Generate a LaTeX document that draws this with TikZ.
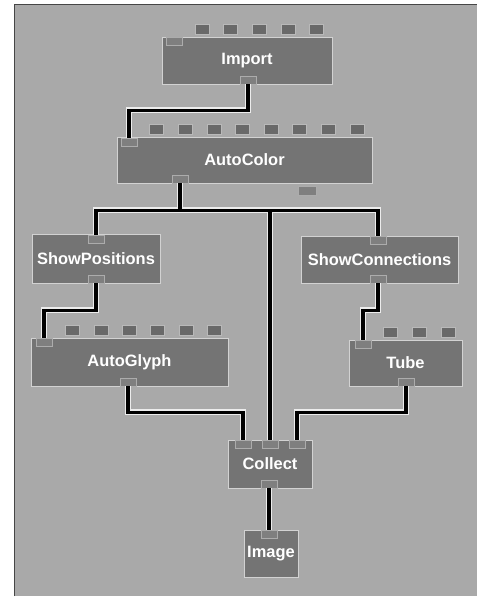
\documentclass[tikz,border=0pt]{standalone}
\usepackage{fontspec}
\setmainfont{Liberation Sans}
\usepackage{xcolor}
\usepackage{tikz}
\usetikzlibrary{calc}
\definecolor{painel}{HTML}{A9A9A9}
\definecolor{corpo}{HTML}{747474}
\definecolor{pino}{HTML}{696969}
\tikzset{
    modulo/.style={
        rectangle,
        draw=gray!35,
        line width=0.8bp,
        fill=corpo,
        text=white,
        inner sep=0pt,
        font=\bfseries\fontsize{16.5}{19}\selectfont
    },
    porta/.style={
        rectangle,
        draw=gray!55,
        line width=0.6bp,
        fill=pino,
        inner sep=0pt,
        minimum width=14bp,
        minimum height=10bp
    },
    entrada/.style={porta, draw=gray!65, fill=corpo!92!white, minimum width=16bp, minimum height=8bp},
    saida/.style={entrada},
    fio/.style={
        line width=3.4bp,
        black,
        preaction={draw, white!85!gray, line width=6bp}
    }
}

\begin{document}
\begin{tikzpicture}[x=1bp, y=-1bp]

    \useasboundingbox (0,0) rectangle (477,598);
    \fill[white] (0,0) rectangle (477,598);
    \fill[painel] (14,5) rectangle (477,596);
    \draw[gray!55!black, line width=1bp] (14,596) |- (477,5);

    % modulos
    \node[modulo, minimum width=170bp, minimum height=47bp] (import) at (247,60.5)
    {Import};
    \node[modulo, minimum width=255bp, minimum height=46bp] (autocolor) at (244.5,160)
    {AutoColor};
    \node[modulo, minimum width=128bp, minimum height=49bp] (showpos) at (96,258.5)
    {ShowPositions};
    \node[modulo, minimum width=157bp, minimum height=47bp] (showcon) at (379.5,259.5)
    {ShowConnections};
    \node[modulo, minimum width=197bp, minimum height=48bp] (autoglyph) at (129.5,362)
    {AutoGlyph};
    \node[modulo, minimum width=113bp, minimum height=46bp] (tube) at (405.5,363)
    {Tube};
    \node[modulo, minimum width=84bp, minimum height=48bp] (collect) at (270,464)
    {Collect};
    \node[modulo, minimum width=54bp, minimum height=47bp] (image) at (271,553.5)
    {Image};

    % parametros no topo
    \foreach \i in {0,...,4}
        \node[porta] (import-p\i) at ($(import.north east)+(-16-28.6*\i,-7)$) {};
    \foreach \i in {0,...,7}
        \node[porta] (autocolor-p\i) at ($(autocolor.north east)+(-15.5-28.6*\i,-7)$) {};
    \foreach \i in {0,...,5}
        \node[porta] (autoglyph-p\i) at ($(autoglyph.north east)+(-14-28.4*\i,-7)$) {};
    \foreach \i in {0,...,2}
        \node[porta] (tube-p\i) at ($(tube.north east)+(-14.5-29*\i,-7)$) {};

    % entradas e saidas
    \node[entrada] (import-in) at (174,41) {};
    \node[saida] (import-out) at (248,80) {};
    \node[entrada] (autocolor-in) at (129,142) {};
    \node[saida] (autocolor-out) at (180,179) {};
    \node[saida, minimum width=18bp, minimum height=9bp] (autocolor-out2) at (307,190.5) {};
    \node[entrada] (showpos-in) at (96,239) {};
    \node[saida] (showpos-out) at (96,279) {};
    \node[entrada] (showcon-in) at (378,240) {};
    \node[saida] (showcon-out) at (378,279) {};
    \node[entrada] (autoglyph-in) at (44,342) {};
    \node[saida] (autoglyph-out) at (128,382) {};
    \node[entrada] (tube-in) at (363,344) {};
    \node[saida] (tube-out) at (406,382) {};
    \node[entrada] (collect-in1) at (243,444) {};
    \node[entrada] (collect-in2) at (270,444) {};
    \node[entrada] (collect-in3) at (297,444) {};
    \node[saida] (collect-out) at (269,484) {};
    \node[entrada] (image-in) at (269,534) {};

    % ligacoes
    \draw[fio] (import-out.south) -- ++(0,26) -| (autocolor-in.north);
    \draw[fio] (autocolor-out.south) -- ++(0,27) coordinate (bus)
        (bus) -| (showpos-in.north)
        (bus) -| (showcon-in.north)
        (bus) -| (collect-in2.north);
    \draw[fio] (showpos-out.south) -- ++(0,27) -| (autoglyph-in.north);
    \draw[fio] (showcon-out.south) -- ++(0,27) -| (tube-in.north);
    \draw[fio] (autoglyph-out.south) -- ++(0,26) -| (collect-in1.north);
    \draw[fio] (tube-out.south) -- ++(0,26) -| (collect-in3.north);
    \draw[fio] (collect-out.south) -- (image-in.north);

\end{tikzpicture}
\end{document}
